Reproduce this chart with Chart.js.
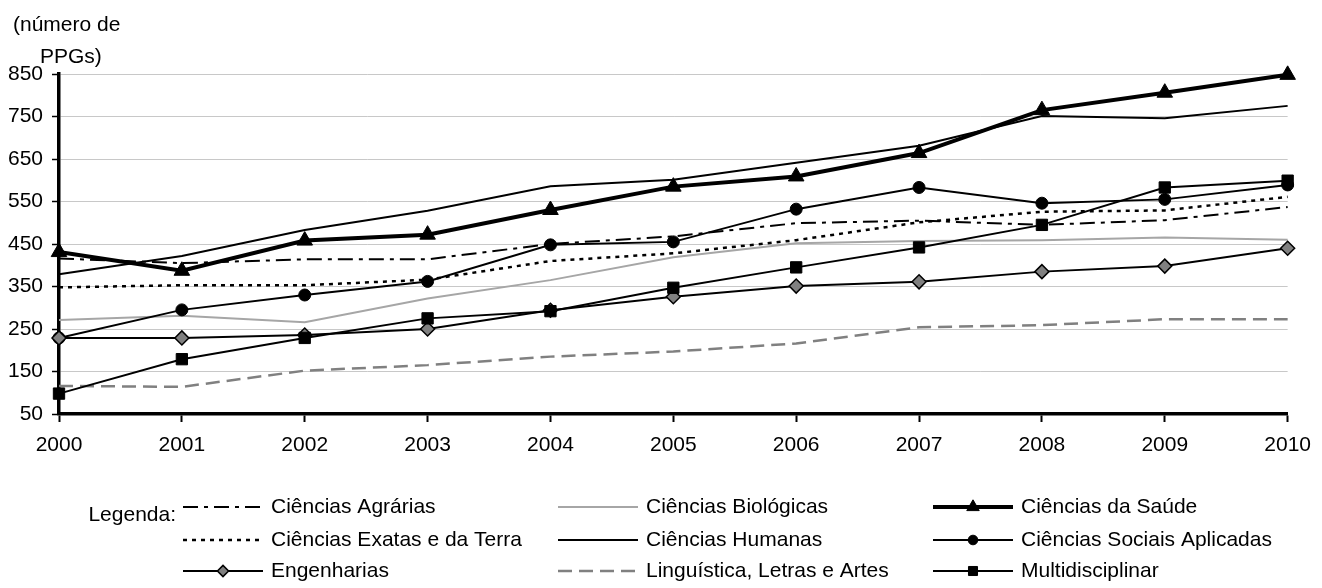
<!DOCTYPE html>
<html lang="pt">
<head>
    <meta charset="UTF-8">
    <title>Número de PPGs por grande área, 2000-2010</title>
    <script src="https://cdn.jsdelivr.net/npm/chart.js"></script>
    <style>
        html, body { margin: 0; padding: 0; background: #fff; }
        #wrap { position: relative; width: 1322px; height: 588px; }
    </style>
</head>
<body>
    <div id="wrap"><canvas id="chart"></canvas></div>
    <script>
        // Data (number of PPGs per area)
        const years = ['2000', '2001', '2002', '2003', '2004', '2005', '2006', '2007', '2008', '2009', '2010'];
        const agrarias = [416, 405, 414, 414, 450, 468, 499, 505, 495, 506, 537];
        const biologicas = [271, 281, 266, 322, 365, 419, 452, 457, 459, 465, 460];
        const saude = [431, 387, 458, 472, 530, 585, 609, 664, 765, 806, 848];
        const exatas = [348, 353, 353, 366, 410, 428, 459, 501, 526, 529, 561];
        const humanas = [379, 422, 483, 528, 586, 601, 641, 681, 751, 746, 775];
        const sociais = [229, 295, 330, 362, 448, 455, 532, 583, 546, 555, 589];
        const engenharias = [229, 229, 236, 250, 294, 326, 351, 361, 385, 398, 440];
        const linguistica = [116, 114, 152, 165, 185, 197, 216, 254, 259, 273, 273];
        const multidisciplinar = [98, 179, 229, 275, 292, 347, 395, 442, 495, 583, 599];
        const yMin = 50, yMax = 850, yStep = 100;

        const FONT = "'Liberation Sans', Arial, sans-serif";

        function series(label, data, style) {
            return Object.assign({
                label: label,
                data: data,
                borderColor: '#000',
                backgroundColor: '#000',
                borderWidth: 2,
                pointRadius: 0,
                pointHoverRadius: 0,
                pointBorderColor: '#000',
                pointBorderWidth: 1,
                tension: 0,
                fill: false,
                clip: false
            }, style);
        }

        const datasets = [
            series('Ciências Agrárias', agrarias, { borderDash: [15, 6, 4, 6] }),
            series('Ciências Biológicas', biologicas, { borderColor: '#a6a6a6', backgroundColor: '#a6a6a6' }),
            series('Ciências da Saúde', saude, { borderWidth: 4, pointStyle: 'triangle', pointRadius: 9 }),
            series('Ciências Exatas e da Terra', exatas, { borderWidth: 2.5, borderDash: [4, 5] }),
            series('Ciências Humanas', humanas, {}),
            series('Ciências Sociais Aplicadas', sociais, { pointStyle: 'circle', pointRadius: 6 }),
            series('Engenharias', engenharias, { pointStyle: 'rectRot', pointRadius: 7, pointBackgroundColor: '#808080', pointBorderWidth: 1.5 }),
            series('Linguística, Letras e Artes', linguistica, { borderColor: '#808080', backgroundColor: '#808080', borderWidth: 2.5, borderDash: [14, 7] }),
            series('Multidisciplinar', multidisciplinar, { pointStyle: 'rect', pointRadius: 8 })
        ];
        // later series drawn on top, like the original
        datasets.forEach((d, i) => { d.order = datasets.length - i; });

        // unit label at top left
        const unitLabel = {
            id: 'unitLabel',
            afterDraw(chart) {
                const ctx = chart.ctx;
                ctx.save();
                ctx.fillStyle = '#000';
                ctx.font = '21px ' + FONT;
                ctx.textBaseline = 'middle';
                ctx.textAlign = 'left';
                ctx.fillText('(número de', 13, 25);
                ctx.fillText('PPGs)', 40, 57);
                ctx.restore();
            }
        };

        // three-column legend at the bottom
        const gridLegend = {
            id: 'gridLegend',
            afterDraw(chart) {
                const ctx = chart.ctx;
                const colX = [183, 558, 933];
                const rowY = [507, 540, 571];
                ctx.save();
                ctx.font = '21px ' + FONT;
                ctx.fillStyle = '#000';
                ctx.textBaseline = 'middle';
                ctx.textAlign = 'right';
                ctx.fillText('Legenda:', 176, 515);
                ctx.textAlign = 'left';
                chart.data.datasets.forEach((ds, i) => {
                    const x = colX[i % 3];
                    const y = rowY[Math.floor(i / 3)];
                    ctx.save();
                    ctx.strokeStyle = ds.borderColor;
                    ctx.lineWidth = ds.borderWidth;
                    ctx.setLineDash(ds.borderDash || []);
                    ctx.beginPath();
                    ctx.moveTo(x, y);
                    ctx.lineTo(x + 80, y);
                    ctx.stroke();
                    ctx.setLineDash([]);
                    if (ds.pointRadius > 0) {
                        ctx.fillStyle = ds.pointBackgroundColor || ds.backgroundColor;
                        ctx.strokeStyle = ds.pointBorderColor;
                        ctx.lineWidth = ds.pointBorderWidth;
                        Chart.helpers.drawPoint(ctx, {
                            pointStyle: ds.pointStyle,
                            rotation: 0,
                            radius: ds.pointRadius * 0.8,
                            borderWidth: ds.pointBorderWidth
                        }, x + 40, y);
                    }
                    ctx.restore();
                    ctx.fillStyle = '#000';
                    ctx.fillText(ds.label, x + 88, y);
                });
                ctx.restore();
            }
        };

        new Chart(document.getElementById('chart'), {
            type: 'line',
            data: { labels: years, datasets: datasets },
            options: {
                responsive: true,
                maintainAspectRatio: false,
                animation: false,
                events: [],
                layout: { padding: { top: 74, right: 27, left: 0, bottom: 0 } },
                plugins: {
                    legend: { display: false },
                    tooltip: { enabled: false },
                    title: { display: false }
                },
                scales: {
                    x: {
                        offset: false,
                        afterFit(scale) { scale.height = 174; },
                        grid: {
                            drawOnChartArea: false,
                            drawTicks: true,
                            tickLength: 8,
                            tickColor: '#000',
                            tickWidth: 2
                        },
                        border: { color: '#000', width: 3.5 },
                        ticks: {
                            color: '#000',
                            padding: 11,
                            maxRotation: 0,
                            font: { family: FONT, size: 21 }
                        }
                    },
                    y: {
                        min: yMin,
                        max: yMax,
                        afterFit(scale) { scale.width = 59; },
                        afterBuildTicks(scale) {
                            const t = [];
                            for (let v = yMin; v <= yMax; v += yStep) t.push({ value: v });
                            scale.ticks = t;
                        },
                        grid: {
                            color: '#c8c8c8',
                            lineWidth: 1,
                            tickLength: 7,
                            tickColor: '#000',
                            tickWidth: 1.5
                        },
                        border: { color: '#000', width: 3.5 },
                        ticks: {
                            color: '#000',
                            padding: 9,
                            font: { family: FONT, size: 21 }
                        }
                    }
                }
            },
            plugins: [unitLabel, gridLegend]
        });
    </script>
</body>
</html>
